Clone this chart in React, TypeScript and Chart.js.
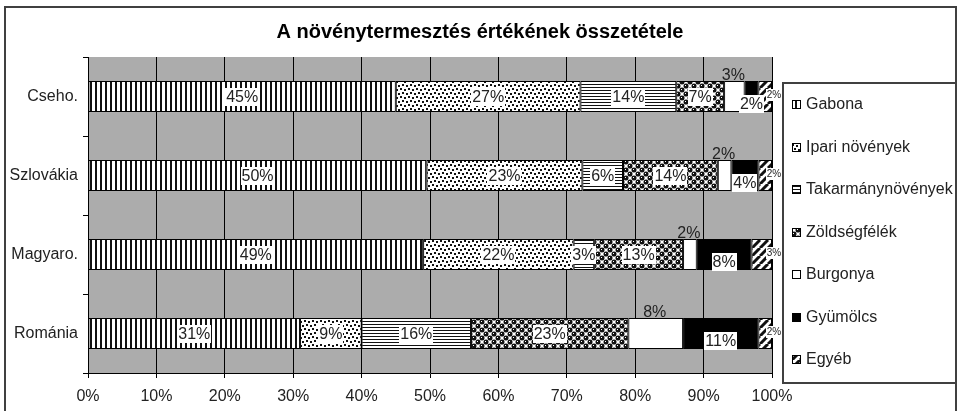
import React, { useEffect, useRef } from "react";
import { Chart, registerables } from "chart.js";

Chart.register(...registerables);

// ---- data ----
const categories = ["Cseho.", "Szlovákia", "Magyaro.", "Románia"];
const seriesNames = [
  "Gabona",
  "Ipari növények",
  "Takarmánynövények",
  "Zöldségfélék",
  "Burgonya",
  "Gyümölcs",
  "Egyéb",
];
const gabona = [45, 50, 49, 31];
const ipari = [27, 23, 22, 9];
const takarmany = [14, 6, 3, 16];
const zoldseg = [7, 14, 13, 23];
const burgonya = [3, 2, 2, 8];
const gyumolcs = [2, 4, 8, 11];
const egyeb = [2, 2, 3, 2];
const xTickValues = [0, 10, 20, 30, 40, 50, 60, 70, 80, 90, 100];
const titleText = "A növénytermesztés értékének összetétele";

const seriesValues = [gabona, ipari, takarmany, zoldseg, burgonya, gyumolcs, egyeb];

const FONT = '"Liberation Sans", Arial, Helvetica, sans-serif';

function makePattern(kind: string): CanvasPattern | string {
  const c = document.createElement("canvas");
  const g = c.getContext("2d")!;
  if (kind === "vlines") {
    c.width = 5; c.height = 4;
    g.fillStyle = "#fff"; g.fillRect(0, 0, 5, 4);
    g.fillStyle = "#111"; g.fillRect(0, 0, 2, 4);
  } else if (kind === "dots") {
    c.width = 8; c.height = 8;
    g.fillStyle = "#fff"; g.fillRect(0, 0, 8, 8);
    g.fillStyle = "#111";
    g.fillRect(0, 0, 2, 2);
    g.fillRect(4, 1, 2, 2);
    g.fillRect(2, 4, 2, 2);
    g.fillRect(6, 5, 2, 2);
  } else if (kind === "hlines") {
    c.width = 4; c.height = 3;
    g.fillStyle = "#fff"; g.fillRect(0, 0, 4, 3);
    g.fillStyle = "#111"; g.fillRect(0, 0, 4, 1);
  } else if (kind === "spheres") {
    c.width = 8; c.height = 8;
    g.fillStyle = "#fff"; g.fillRect(0, 0, 8, 8);
    g.fillStyle = "#111";
    const pts = [[2, 2], [6, 6], [6, -2], [-2, 6], [10, 6], [6, 10], [10, -2], [-2, 10], [2, 10], [10, 2], [-2, -2], [10, 10]];
    for (const [x, y] of pts) {
      g.beginPath(); g.arc(x, y, 2.5, 0, Math.PI * 2); g.fill();
    }
    g.fillStyle = "#fff";
    g.fillRect(1, 1, 1, 1);
    g.fillRect(5, 5, 1, 1);
  } else if (kind === "diag") {
    c.width = 8; c.height = 8;
    g.fillStyle = "#fff"; g.fillRect(0, 0, 8, 8);
    g.strokeStyle = "#111"; g.lineWidth = 3;
    for (const o of [-8, 0, 8]) {
      g.beginPath(); g.moveTo(o, 8); g.lineTo(o + 8, 0); g.stroke();
    }
  } else if (kind === "black") {
    return "#000";
  } else {
    return "#fff";
  }
  return g.createPattern(c, "repeat")!;
}

const patternKinds = ["vlines", "dots", "hlines", "spheres", "white", "black", "diag"];

// label style per series: mode center / end, offsets, box, font size
const labelStyles = [
  { dx: 0, dy: 0, box: true, size: 16, mode: "center" },
  { dx: 0, dy: 0, box: true, size: 16, mode: "center" },
  { dx: 0, dy: 0, box: true, size: 16, mode: "center" },
  { dx: 0, dy: 0, box: true, size: 16, mode: "center" },
  { dx: -1, dy: -22, box: false, size: 16, mode: "center" },
  { dx: 0, dy: 7, box: true, size: 16, mode: "center" },
  { dx: 2, dy: -2, box: true, size: 10, mode: "end" },
];

export default function App() {
  const ref = useRef<HTMLCanvasElement | null>(null);

  useEffect(() => {
    document.body.style.margin = "0";
    const canvas = ref.current!;
    const patterns = patternKinds.map(makePattern);

    const datasets = seriesNames.map((name, i) => ({
      label: name,
      data: categories.map((_, j) => {
        const total = seriesValues.reduce((s, arr) => s + arr[j], 0);
        return (seriesValues[i][j] / total) * 100;
      }),
      backgroundColor: patterns[i] as any,
      borderColor: "#000",
      borderWidth: 1,
      borderSkipped: false as any,
      barPercentage: 0.39,
      categoryPercentage: 1,
    }));

    const decor = {
      id: "decor",
      beforeDraw(chart: any) {
        const { ctx, chartArea: a } = chart;
        ctx.save();
        ctx.fillStyle = "#fff";
        ctx.fillRect(0, 0, chart.width, chart.height);
        ctx.fillStyle = "#acacac";
        ctx.fillRect(a.left, a.top, a.right - a.left, a.bottom - a.top);
        ctx.restore();
      },
      afterDatasetsDraw(chart: any) {
        const { ctx } = chart;
        ctx.save();
        ctx.textAlign = "center";
        ctx.textBaseline = "middle";
        seriesNames.forEach((_, i) => {
          const meta = chart.getDatasetMeta(i);
          const st = labelStyles[i];
          meta.data.forEach((el: any, j: number) => {
            const text = seriesValues[i][j] + "%";
            const baseX = st.mode === "end" ? el.x : (el.x + el.base) / 2;
            const x = baseX + st.dx;
            const y = el.y + st.dy;
            ctx.font = `${st.size}px ${FONT}`;
            const w = ctx.measureText(text).width;
            if (st.box) {
              const h = st.size + 2;
              ctx.fillStyle = "#fff";
              ctx.fillRect(Math.round(x - w / 2 - 1), Math.round(y - h / 2), Math.round(w + 2), h);
            }
            ctx.fillStyle = "#222";
            ctx.fillText(text, x, y + 1);
          });
        });
        ctx.restore();
      },
      afterDraw(chart: any) {
        const { ctx } = chart;
        ctx.save();
        // title
        ctx.fillStyle = "#000";
        ctx.font = `bold 20px ${FONT}`;
        ctx.textAlign = "center";
        ctx.textBaseline = "middle";
        ctx.fillText(titleText, 480, 32);
        // legend box
        const lx = 783, ly = 83, lw = 173, lh = 300;
        ctx.fillStyle = "#fff";
        ctx.fillRect(lx, ly, lw, lh);
        ctx.strokeStyle = "#404040";
        ctx.lineWidth = 2;
        ctx.strokeRect(lx, ly, lw, lh);
        ctx.textAlign = "left";
        ctx.font = `16px ${FONT}`;
        seriesNames.forEach((name, i) => {
          const cy = Math.round(ly + 21 + i * 42.5);
          ctx.fillStyle = patterns[i] as any;
          ctx.fillRect(792, cy - 4, 9, 9);
          ctx.strokeStyle = "#000";
          ctx.lineWidth = 1;
          ctx.strokeRect(792.5, cy - 3.5, 8, 8);
          ctx.fillStyle = "#222";
          ctx.fillText(name, 806, cy + 1);
        });
        // outer border
        ctx.strokeStyle = "#404040";
        ctx.lineWidth = 2;
        ctx.strokeRect(5, 7, 951, 420);
        ctx.restore();
      },
    };

    const chart = new Chart(canvas, {
      type: "bar",
      data: { labels: categories, datasets: datasets as any },
      options: {
        indexAxis: "y",
        responsive: false,
        maintainAspectRatio: false,
        animation: false,
        layout: { padding: { left: 0, top: 57, right: 186, bottom: 0 } },
        plugins: {
          legend: { display: false },
          title: { display: false },
          tooltip: { enabled: false },
        },
        scales: {
          x: {
            stacked: true,
            min: 0,
            max: 100,
            afterBuildTicks: (s: any) => {
              s.ticks = xTickValues.map((v) => ({ value: v }));
            },
            afterFit: (s: any) => {
              s.height = 38;
            },
            ticks: {
              callback: (v: any) => v + "%",
              font: { size: 16, family: FONT },
              color: "#222",
              padding: 9,
              maxRotation: 0,
            },
            grid: { color: "#000", lineWidth: 1, tickLength: 5, drawTicks: true },
            border: { color: "#000", width: 1 },
          },
          y: {
            stacked: true,
            afterFit: (s: any) => {
              s.width = 88;
            },
            ticks: {
              font: { size: 16, family: FONT },
              color: "#222",
              padding: 5,
            },
            grid: { drawOnChartArea: false, color: "#000", tickLength: 5, offset: true },
            border: { color: "#000", width: 1 },
          },
        },
      },
      plugins: [decor],
    });

    return () => chart.destroy();
  }, []);

  return (
    <div style={{ width: 958, height: 411 }}>
      <canvas ref={ref} width={958} height={411} style={{ display: "block" }} />
    </div>
  );
}
